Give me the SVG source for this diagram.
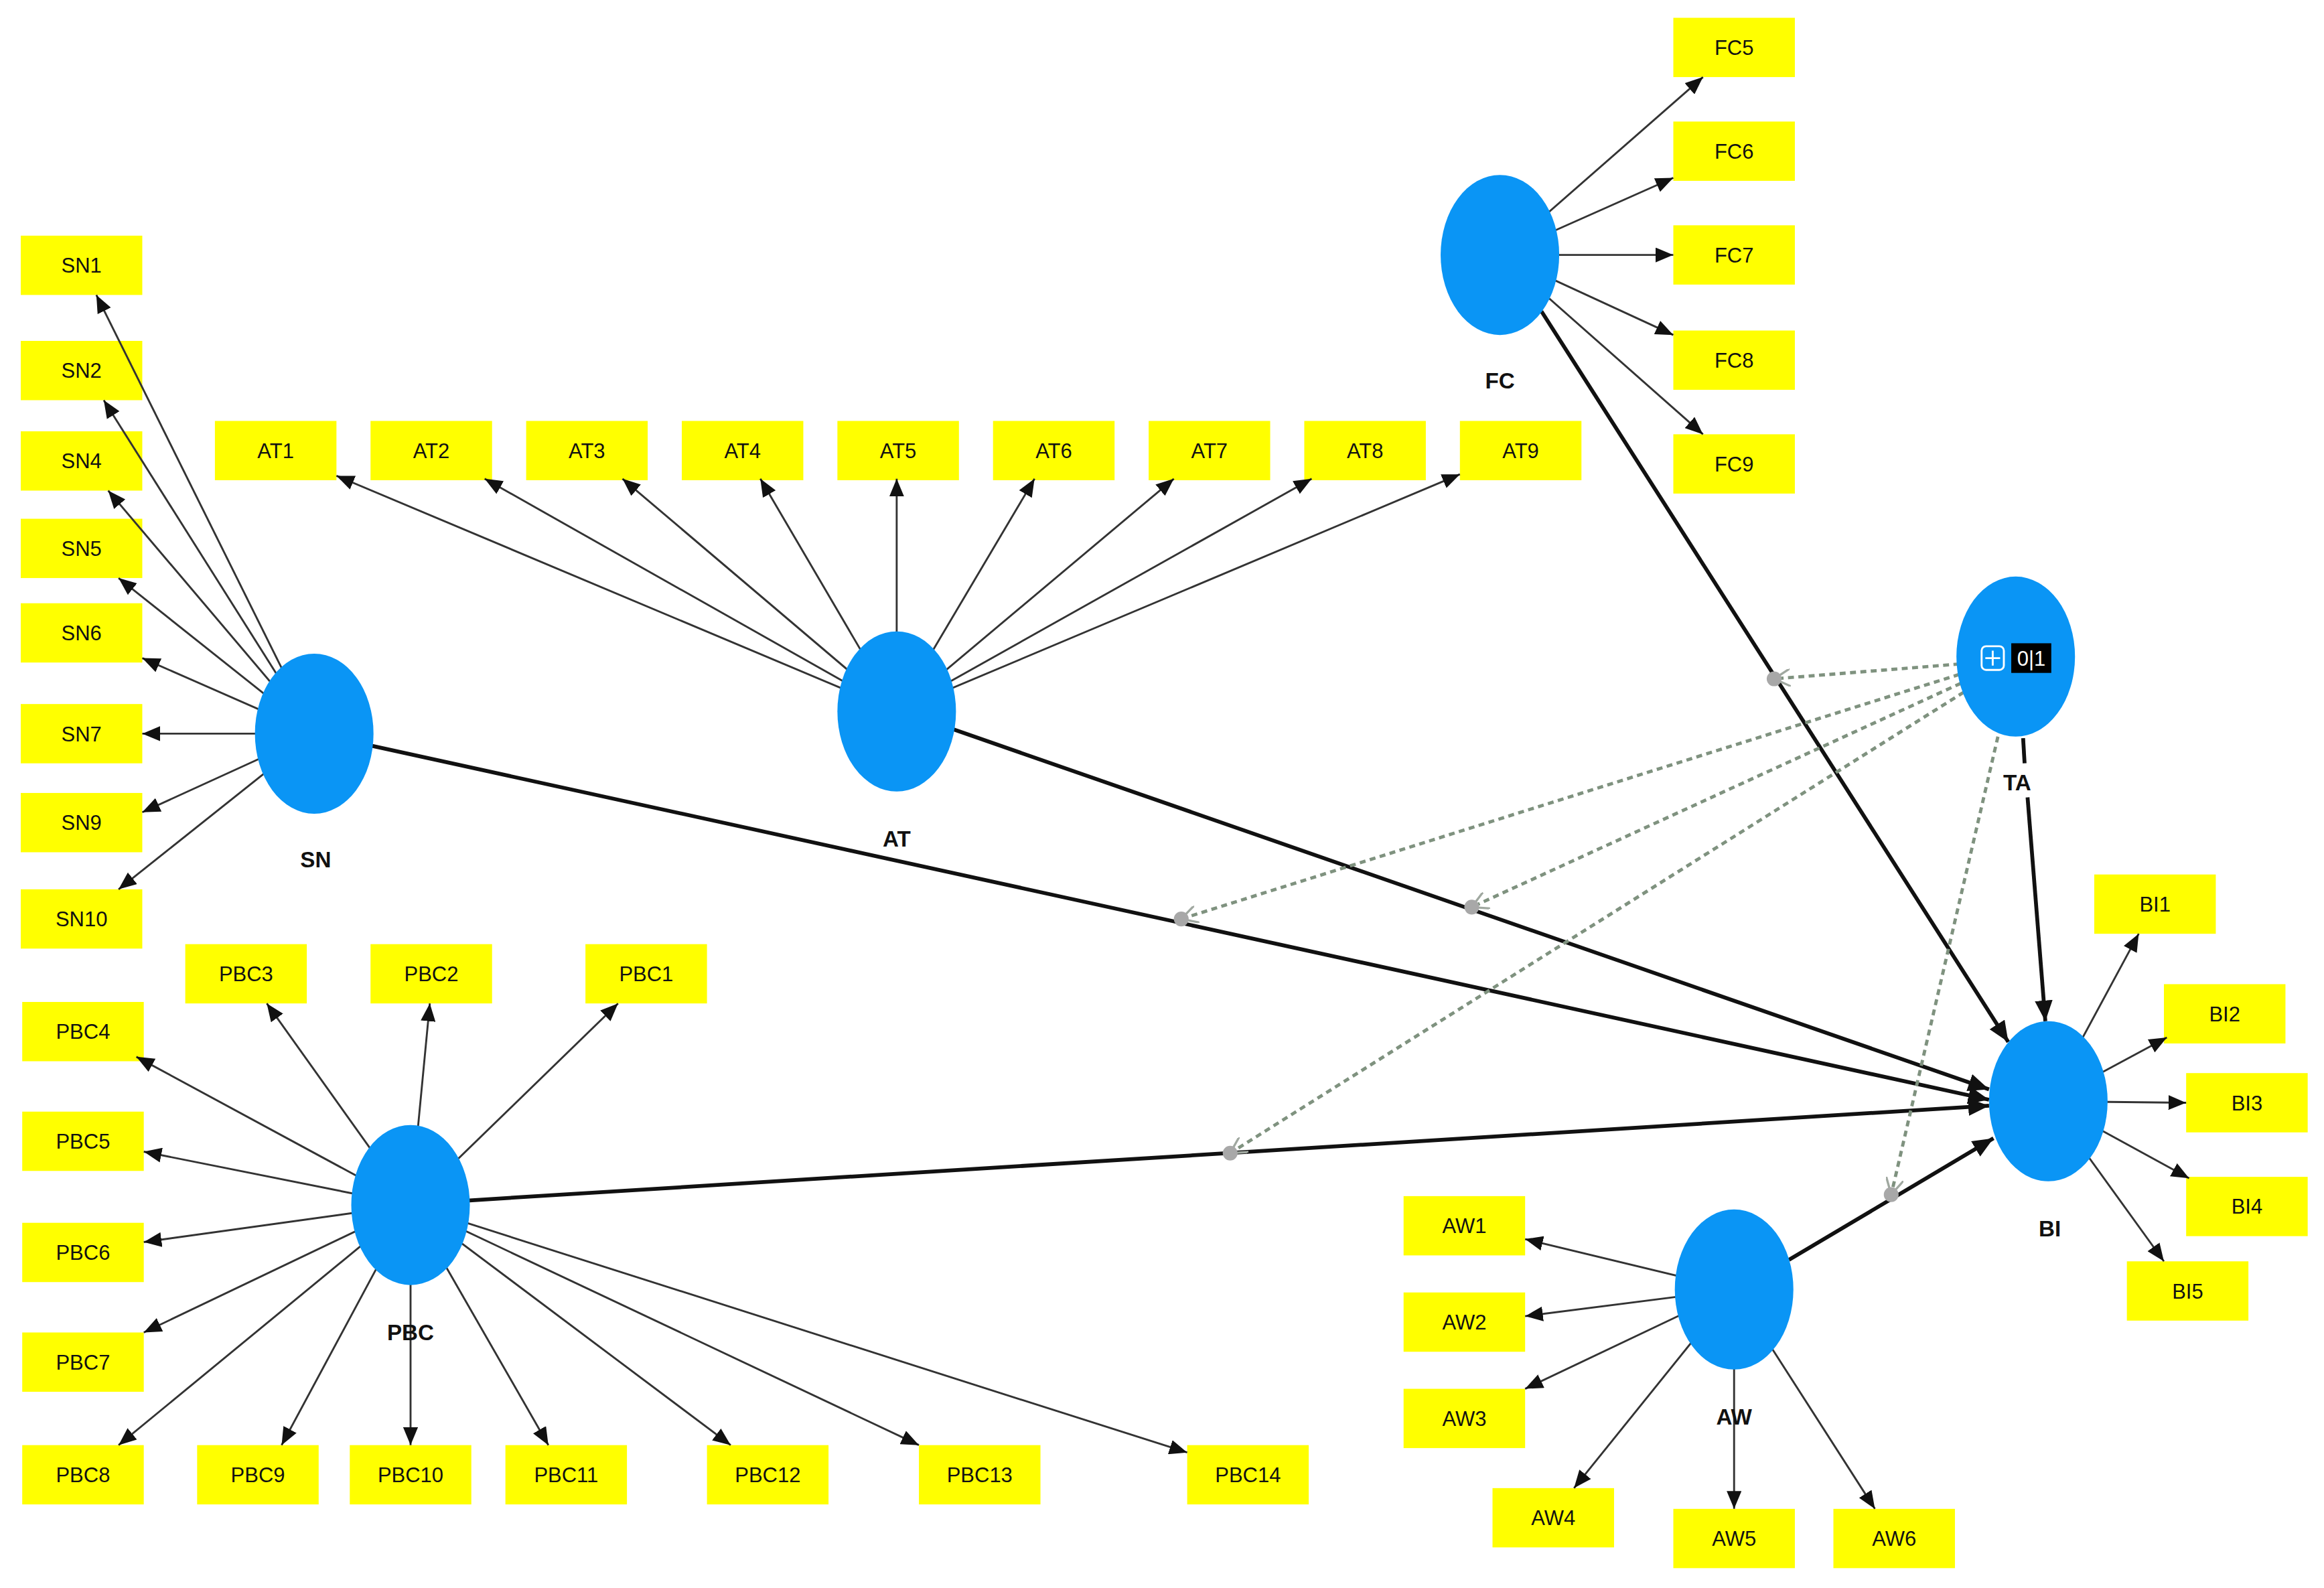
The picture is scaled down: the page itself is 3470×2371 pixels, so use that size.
<svg xmlns="http://www.w3.org/2000/svg" width="3470" height="2371" viewBox="0 0 3470 2371">
<style>
.b{fill:#ffff00}
.t{font-family:"Liberation Sans",Arial,sans-serif;font-size:14px;fill:#111;text-anchor:middle}
.l{font-family:"Liberation Sans",Arial,sans-serif;font-size:15px;font-weight:bold;fill:#111;text-anchor:middle}
.c{fill:#0a95f5}
.a{stroke:#333;stroke-width:1.3;fill:none;marker-end:url(#ar)}
.s{stroke:#111;stroke-width:2.6;fill:none;marker-end:url(#ar2)}
.d{stroke:#7f927f;stroke-width:2.2;stroke-dasharray:4 3;fill:none;marker-end:url(#ao)}
.p{fill:#a8a8a8}
</style>
<defs>
<marker id="ar" markerUnits="userSpaceOnUse" markerWidth="12" markerHeight="10" refX="12" refY="5" orient="auto"><path d="M0,0 L12,5 L0,10 Z" fill="#111"/></marker>
<marker id="ar2" markerUnits="userSpaceOnUse" markerWidth="14" markerHeight="12" refX="14" refY="6" orient="auto"><path d="M0,0 L14,6 L0,12 Z" fill="#111"/></marker>
<marker id="ao" markerUnits="userSpaceOnUse" markerWidth="12" markerHeight="12" refX="11" refY="6" orient="auto"><path d="M0,0 L11,6 L0,12" fill="none" stroke="#a0a8a0" stroke-width="1.5"/></marker>
</defs>
<rect width="3470" height="2371" fill="#fff"/>
<g transform="scale(2.213)">
<g id="indicators">
<g id="SN1"><rect class="b" x="14" y="159" width="82" height="40"/><text class="t" x="55" y="184">SN1</text></g>
<g id="SN2"><rect class="b" x="14" y="230" width="82" height="40"/><text class="t" x="55" y="255">SN2</text></g>
<g id="SN4"><rect class="b" x="14" y="291" width="82" height="40"/><text class="t" x="55" y="316">SN4</text></g>
<g id="SN5"><rect class="b" x="14" y="350" width="82" height="40"/><text class="t" x="55" y="375">SN5</text></g>
<g id="SN6"><rect class="b" x="14" y="407" width="82" height="40"/><text class="t" x="55" y="432">SN6</text></g>
<g id="SN7"><rect class="b" x="14" y="475" width="82" height="40"/><text class="t" x="55" y="500">SN7</text></g>
<g id="SN9"><rect class="b" x="14" y="535" width="82" height="40"/><text class="t" x="55" y="560">SN9</text></g>
<g id="SN10"><rect class="b" x="14" y="600" width="82" height="40"/><text class="t" x="55" y="625">SN10</text></g>
<g id="AT1"><rect class="b" x="145" y="284" width="82" height="40"/><text class="t" x="186" y="309">AT1</text></g>
<g id="AT2"><rect class="b" x="250" y="284" width="82" height="40"/><text class="t" x="291" y="309">AT2</text></g>
<g id="AT3"><rect class="b" x="355" y="284" width="82" height="40"/><text class="t" x="396" y="309">AT3</text></g>
<g id="AT4"><rect class="b" x="460" y="284" width="82" height="40"/><text class="t" x="501" y="309">AT4</text></g>
<g id="AT5"><rect class="b" x="565" y="284" width="82" height="40"/><text class="t" x="606" y="309">AT5</text></g>
<g id="AT6"><rect class="b" x="670" y="284" width="82" height="40"/><text class="t" x="711" y="309">AT6</text></g>
<g id="AT7"><rect class="b" x="775" y="284" width="82" height="40"/><text class="t" x="816" y="309">AT7</text></g>
<g id="AT8"><rect class="b" x="880" y="284" width="82" height="40"/><text class="t" x="921" y="309">AT8</text></g>
<g id="AT9"><rect class="b" x="985" y="284" width="82" height="40"/><text class="t" x="1026" y="309">AT9</text></g>
<g id="FC5"><rect class="b" x="1129" y="12" width="82" height="40"/><text class="t" x="1170" y="37">FC5</text></g>
<g id="FC6"><rect class="b" x="1129" y="82" width="82" height="40"/><text class="t" x="1170" y="107">FC6</text></g>
<g id="FC7"><rect class="b" x="1129" y="152" width="82" height="40"/><text class="t" x="1170" y="177">FC7</text></g>
<g id="FC8"><rect class="b" x="1129" y="223" width="82" height="40"/><text class="t" x="1170" y="248">FC8</text></g>
<g id="FC9"><rect class="b" x="1129" y="293" width="82" height="40"/><text class="t" x="1170" y="318">FC9</text></g>
<g id="BI1"><rect class="b" x="1413" y="590" width="82" height="40"/><text class="t" x="1454" y="615">BI1</text></g>
<g id="BI2"><rect class="b" x="1460" y="664" width="82" height="40"/><text class="t" x="1501" y="689">BI2</text></g>
<g id="BI3"><rect class="b" x="1475" y="724" width="82" height="40"/><text class="t" x="1516" y="749">BI3</text></g>
<g id="BI4"><rect class="b" x="1475" y="794" width="82" height="40"/><text class="t" x="1516" y="819">BI4</text></g>
<g id="BI5"><rect class="b" x="1435" y="851" width="82" height="40"/><text class="t" x="1476" y="876">BI5</text></g>
<g id="PBC3"><rect class="b" x="125" y="637" width="82" height="40"/><text class="t" x="166" y="662">PBC3</text></g>
<g id="PBC2"><rect class="b" x="250" y="637" width="82" height="40"/><text class="t" x="291" y="662">PBC2</text></g>
<g id="PBC1"><rect class="b" x="395" y="637" width="82" height="40"/><text class="t" x="436" y="662">PBC1</text></g>
<g id="PBC4"><rect class="b" x="15" y="676" width="82" height="40"/><text class="t" x="56" y="701">PBC4</text></g>
<g id="PBC5"><rect class="b" x="15" y="750" width="82" height="40"/><text class="t" x="56" y="775">PBC5</text></g>
<g id="PBC6"><rect class="b" x="15" y="825" width="82" height="40"/><text class="t" x="56" y="850">PBC6</text></g>
<g id="PBC7"><rect class="b" x="15" y="899" width="82" height="40"/><text class="t" x="56" y="924">PBC7</text></g>
<g id="PBC8"><rect class="b" x="15" y="975" width="82" height="40"/><text class="t" x="56" y="1000">PBC8</text></g>
<g id="PBC9"><rect class="b" x="133" y="975" width="82" height="40"/><text class="t" x="174" y="1000">PBC9</text></g>
<g id="PBC10"><rect class="b" x="236" y="975" width="82" height="40"/><text class="t" x="277" y="1000">PBC10</text></g>
<g id="PBC11"><rect class="b" x="341" y="975" width="82" height="40"/><text class="t" x="382" y="1000">PBC11</text></g>
<g id="PBC12"><rect class="b" x="477" y="975" width="82" height="40"/><text class="t" x="518" y="1000">PBC12</text></g>
<g id="PBC13"><rect class="b" x="620" y="975" width="82" height="40"/><text class="t" x="661" y="1000">PBC13</text></g>
<g id="PBC14"><rect class="b" x="801" y="975" width="82" height="40"/><text class="t" x="842" y="1000">PBC14</text></g>
<g id="AW1"><rect class="b" x="947" y="807" width="82" height="40"/><text class="t" x="988" y="832">AW1</text></g>
<g id="AW2"><rect class="b" x="947" y="872" width="82" height="40"/><text class="t" x="988" y="897">AW2</text></g>
<g id="AW3"><rect class="b" x="947" y="937" width="82" height="40"/><text class="t" x="988" y="962">AW3</text></g>
<g id="AW4"><rect class="b" x="1007" y="1004" width="82" height="40"/><text class="t" x="1048" y="1029">AW4</text></g>
<g id="AW5"><rect class="b" x="1129" y="1018" width="82" height="40"/><text class="t" x="1170" y="1043">AW5</text></g>
<g id="AW6"><rect class="b" x="1237" y="1018" width="82" height="40"/><text class="t" x="1278" y="1043">AW6</text></g>
</g>
<g id="connectors">
<path class="a" d="M212,495L65,199"/><path class="a" d="M212,495L70,270"/><path class="a" d="M212,495L73,331"/><path class="a" d="M212,495L80,390"/><path class="a" d="M212,495L96,444"/><path class="a" d="M212,495L96,495"/><path class="a" d="M212,495L96,548"/><path class="a" d="M212,495L80,600"/>
<path class="a" d="M605,480L227,321"/><path class="a" d="M605,480L327,323"/><path class="a" d="M605,480L420,323"/><path class="a" d="M605,480L513,323"/><path class="a" d="M605,480L605,323"/><path class="a" d="M605,480L698,323"/><path class="a" d="M605,480L792,323"/><path class="a" d="M605,480L885,323"/><path class="a" d="M605,480L985,320"/>
<path class="a" d="M1012,172L1149,52"/><path class="a" d="M1012,172L1129,120"/><path class="a" d="M1012,172L1129,172"/><path class="a" d="M1012,172L1129,226"/><path class="a" d="M1012,172L1149,293"/>
<path class="a" d="M1382,743L1443,630"/><path class="a" d="M1382,743L1462,700"/><path class="a" d="M1382,743L1475,744"/><path class="a" d="M1382,743L1477,795"/><path class="a" d="M1382,743L1460,851"/>
<path class="a" d="M277,813L180,677"/><path class="a" d="M277,813L290,677"/><path class="a" d="M277,813L417,677"/><path class="a" d="M277,813L92,713"/><path class="a" d="M277,813L97,777"/><path class="a" d="M277,813L97,838"/><path class="a" d="M277,813L97,899"/><path class="a" d="M277,813L80,975"/><path class="a" d="M277,813L190,975"/><path class="a" d="M277,813L277,975"/><path class="a" d="M277,813L370,975"/><path class="a" d="M277,813L493,975"/><path class="a" d="M277,813L620,975"/><path class="a" d="M277,813L801,980"/>
<path class="a" d="M1170,870L1029,836"/><path class="a" d="M1170,870L1029,888"/><path class="a" d="M1170,870L1029,937"/><path class="a" d="M1170,870L1062,1004"/><path class="a" d="M1170,870L1170,1018"/><path class="a" d="M1170,870L1265,1018"/>
<path class="s" d="M250,503L1342,742"/>
<path class="s" d="M643,492L1342,735"/>
<path class="s" d="M1040,210L1355,703"/>
<path d="M1365,498L1366,515" stroke="#111" stroke-width="2.6"/>
<path class="s" d="M1368,538L1380,689"/>
<path class="s" d="M315,810L1342,746"/>
<path class="s" d="M1207,850L1345,768"/>
<path class="d" d="M1322,448L1197,458"/>
<path class="d" d="M1322,455L797,620"/>
<path class="d" d="M1323,461L993,612"/>
<path class="d" d="M1325,467L830,778"/>
<path class="d" d="M1348,497L1276,806"/>
<circle class="p" cx="1197" cy="458" r="5"/>
<circle class="p" cx="797" cy="620" r="5"/>
<circle class="p" cx="993" cy="612" r="5"/>
<circle class="p" cx="830" cy="778" r="5"/>
<circle class="p" cx="1276" cy="806" r="5"/>
</g>
<g id="SN"><ellipse class="c" cx="212" cy="495" rx="40" ry="54"/><text class="l" x="213" y="585">SN</text></g>
<g id="AT"><ellipse class="c" cx="605" cy="480" rx="40" ry="54"/><text class="l" x="605" y="571">AT</text></g>
<g id="FC"><ellipse class="c" cx="1012" cy="172" rx="40" ry="54"/><text class="l" x="1012" y="262">FC</text></g>
<g id="TA"><ellipse class="c" cx="1360" cy="443" rx="40" ry="54"/><rect x="1337" y="436" width="15" height="16" rx="3" fill="none" stroke="#fff" stroke-width="1.3"/><path d="M1344.5,439V449M1339.5,444H1349.5" stroke="#fff" stroke-width="1.3"/><rect x="1357" y="434" width="27" height="20" fill="#000"/><text x="1370.5" y="449" font-family="Liberation Sans,Arial,sans-serif" font-size="14" fill="#fff" text-anchor="middle">0|1</text><text class="l" x="1361" y="533">TA</text></g>
<g id="BI"><ellipse class="c" cx="1382" cy="743" rx="40" ry="54"/><text class="l" x="1383" y="834">BI</text></g>
<g id="PBC"><ellipse class="c" cx="277" cy="813" rx="40" ry="54"/><text class="l" x="277" y="904">PBC</text></g>
<g id="AW"><ellipse class="c" cx="1170" cy="870" rx="40" ry="54"/><text class="l" x="1170" y="961">AW</text></g>
</g>
</svg>
